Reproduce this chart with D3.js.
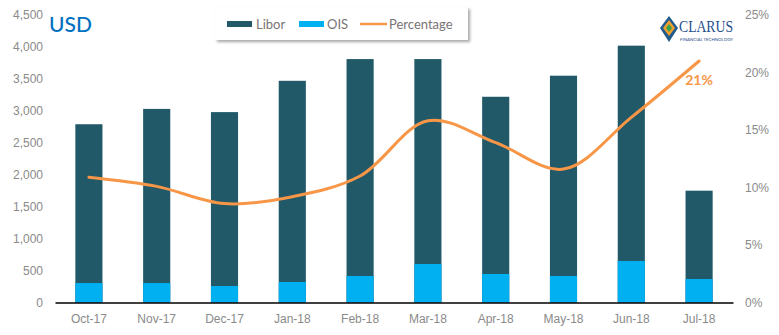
<!DOCTYPE html>
<html><head><meta charset="utf-8">
<script src="https://cdn.jsdelivr.net/npm/d3@7"></script>
<style>body{margin:0;background:#fff}svg{display:block;font-family:Lato,"Open Sans",sans-serif}</style>
</head><body><svg id="c" width="779" height="335"></svg>
<script>
const categories = ["Oct-17","Nov-17","Dec-17","Jan-18","Feb-18","Mar-18","Apr-18","May-18","Jun-18","Jul-18"];
const libor = [2790,3030,2980,3470,3810,3810,3220,3550,4020,1750];
const ois = [305,305,258,321,415,603,446,415,650,368];
const percentage = [10.9,10.1,8.6,9.2,11.0,15.8,13.9,11.6,16.1,21.0];
const leftTicks = [0,500,1000,1500,2000,2500,3000,3500,4000,4500];
const rightTicks = [0,5,10,15,20,25];

const svg = d3.select("#c");
const x = d3.scaleBand().domain(categories).range([55,733]).paddingInner(0.6).paddingOuter(0.3);
const y = d3.scaleLinear().domain([0,4500]).range([302.5,15]);
const y2 = d3.scaleLinear().domain([0,25]).range([302.5,15]);
const grey = "#8a8a8a";

// left axis
const ax = d3.axisLeft(y).tickValues(leftTicks).tickSize(0).tickPadding(0).tickFormat(d3.format(","));
const gL = svg.append("g").attr("transform","translate(43,0)").call(ax);
gL.select(".domain").remove();
gL.selectAll("text").attr("fill",grey).attr("font-size","12px");
// right axis
const ar = d3.axisRight(y2).tickValues(rightTicks).tickSize(0).tickPadding(0).tickFormat(d=>d+"%");
const gR = svg.append("g").attr("transform","translate(745,0)").call(ar);
gR.select(".domain").remove();
gR.selectAll("text").attr("fill",grey).attr("font-size","12px");

// bars
svg.append("g").selectAll("rect").data(categories).join("rect")
  .attr("x",d=>x(d)).attr("width",x.bandwidth())
  .attr("y",(d,i)=>y(libor[i])).attr("height",(d,i)=>y(0)-y(libor[i]))
  .attr("fill","#215968");
svg.append("g").selectAll("rect").data(categories).join("rect")
  .attr("x",d=>x(d)).attr("width",x.bandwidth())
  .attr("y",(d,i)=>y(ois[i])).attr("height",(d,i)=>y(0)-y(ois[i]))
  .attr("fill","#00B0F0");

// bottom axis
const ab = d3.axisBottom(x).tickSize(0).tickPadding(12);
const gB = svg.append("g").attr("transform","translate(0,302.5)").call(ab);
gB.select(".domain").attr("stroke","#000").attr("stroke-width",1.5);
gB.selectAll("text").attr("fill",grey).attr("font-size","12px");

// line
const line = d3.line().x((d,i)=>x(categories[i])+x.bandwidth()/2).y(d=>y2(d)).curve(d3.curveCatmullRom.alpha(0.5));
svg.append("path").datum(percentage).attr("d",line).attr("fill","none")
  .attr("stroke","#F79646").attr("stroke-width",3).attr("stroke-linecap","round");

// label 21%
const li = percentage.length-1;
svg.append("text").attr("x",x(categories[li])+x.bandwidth()/2).attr("y",y2(percentage[li])+24)
  .attr("text-anchor","middle").attr("fill","#F79646").attr("font-size","14px").attr("font-weight","bold")
  .text(Math.round(percentage[li])+"%");

// title
svg.append("text").attr("x",49).attr("y",32).attr("fill","#0070C0").attr("font-size","21px").attr("font-weight","500").text("USD");

// legend
const defs = svg.append("defs");
const f = defs.append("filter").attr("id","sh").attr("x","-10%").attr("y","-20%").attr("width","130%").attr("height","160%");
f.append("feDropShadow").attr("dx",2).attr("dy",2).attr("stdDeviation",1.5).attr("flood-color","#000").attr("flood-opacity",0.35);
svg.append("rect").attr("x",215).attr("y",7).attr("width",253).attr("height",33).attr("fill","#fff").attr("filter","url(#sh)");
const lg = svg.append("g").attr("font-size","13px").attr("fill","#7a7373");
lg.append("rect").attr("x",227).attr("y",21).attr("width",25).attr("height",6).attr("fill","#215968");
lg.append("text").attr("x",256).attr("y",29).text("Libor");
lg.append("rect").attr("x",299).attr("y",21).attr("width",25).attr("height",6).attr("fill","#00B0F0");
lg.append("text").attr("x",327).attr("y",29).text("OIS");
lg.append("line").attr("x1",360).attr("x2",387).attr("y1",24).attr("y2",24).attr("stroke","#F79646").attr("stroke-width",2.5);
lg.append("text").attr("x",389).attr("y",29).text("Percentage");

// logo
const logo = svg.append("g");
logo.append("path").attr("d","M669,16 L678,28 L669,42 L660,28 Z").attr("fill","#1f5b8c");
logo.append("path").attr("d","M669,20 L675,28 L669,36 L663,28 Z").attr("fill","#f0a030");
logo.append("path").attr("d","M669,24 L672,28 L669,32 L666,28 Z").attr("fill","#3aa34a");
logo.append("text").attr("x",679).attr("y",32).attr("fill","#1f4e8c").attr("font-family","Liberation Serif,serif").attr("font-size","16px").attr("textLength",54).attr("lengthAdjust","spacingAndGlyphs").text("CLARUS");
logo.append("text").attr("x",680).attr("y",41).attr("fill","#1f4e8c").attr("font-size","4.5px").attr("textLength",53).attr("lengthAdjust","spacingAndGlyphs").text("FINANCIAL TECHNOLOGY");
</script></body></html>
